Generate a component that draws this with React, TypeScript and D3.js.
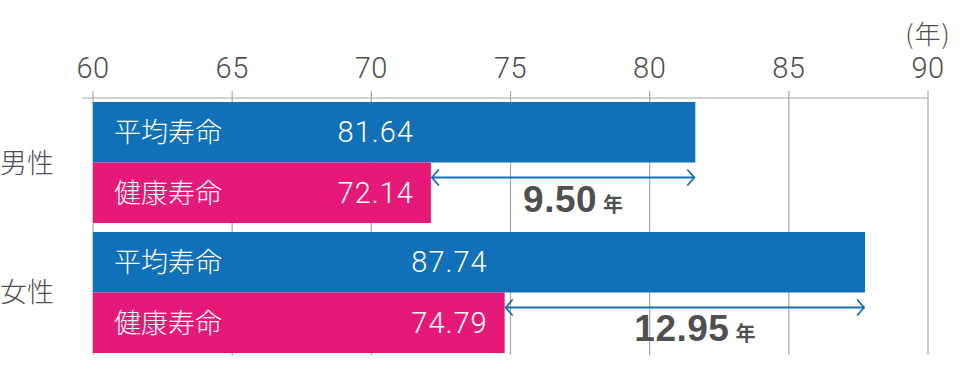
import * as d3 from "d3";

const genders = ["男性", "女性"];
const lifeTypes = ["平均寿命", "健康寿命"];
const averageLife = [81.64, 87.74];
const healthyLife = [72.14, 74.79];
const xTicks = [60, 65, 70, 75, 80, 85, 90];

const W = 960;
const H = 389;
const BLUE = "#1070b8";
const PINK = "#e51a78";
const TEXT = "#505050";
const JP_FONT = "'Noto Sans CJK JP', 'Noto Sans', sans-serif";
const NUM_FONT = "Roboto, 'Liberation Sans', sans-serif";
const BOLD_FONT = "'Liberation Sans', Arial, sans-serif";

export default function App() {
	const x = d3.scaleLinear().domain([60, 90]).range([93, 928]);
	const y = d3.scaleBand<string>().domain(genders).range([102, 353]).paddingInner(0.069);
	const yInner = d3.scaleBand<string>().domain(lifeTypes).range([0, y.bandwidth()]);

	const rows = genders.map((g, i) => ({
		gender: g,
		values: [averageLife[i], healthyLife[i]],
		diff: averageLife[i] - healthyLife[i]
	}));

	const arrowHead = 8;

	return (
		<svg
			width={W}
			height={H}
			style={{ position: "absolute", left: 0, top: 0, background: "#fff" }}
			fontFamily={JP_FONT}
		>
			{/* grid + ticks */}
			{xTicks.map(t => (
				<g key={t}>
					<line x1={x(t)} x2={x(t)} y1={91} y2={355} stroke="#a8a8a8" strokeWidth={1.2} />
					<text
						x={x(t)}
						y={78}
						textAnchor="middle"
						fontFamily={NUM_FONT}
						fontSize={29}
						fontWeight={300}
						letterSpacing={0.5}
						fill={TEXT}
					>
						{t}
					</text>
				</g>
			))}
			<line x1={82} x2={x(90)} y1={98} y2={98} stroke="#a8a8a8" strokeWidth={1.2} />
			<text x={x(90)} y={44} textAnchor="middle" fontSize={26} fontWeight={300} letterSpacing={1} fill={TEXT}>
				(年)
			</text>

			{rows.map(r => {
				const y0 = y(r.gender)!;
				const valueX = x(r.values[1]) - 17;
				const yArrow = y0 + yInner(lifeTypes[1])! + 15;
				const xa1 = x(r.values[1]);
				const xa2 = x(r.values[0]);
				const mid = (xa1 + xa2) / 2 + 10;
				return (
					<g key={r.gender}>
						<text
							x={0}
							y={y0 + y.bandwidth() / 2 + 10}
							fontSize={27}
							fontWeight={300}
							fill={TEXT}
						>
							{r.gender}
						</text>
						{lifeTypes.map((lt, j) => (
							<g key={lt}>
								<rect
									x={x(60)}
									y={y0 + yInner(lt)!}
									width={x(r.values[j]) - x(60)}
									height={yInner.bandwidth()}
									fill={j === 0 ? BLUE : PINK}
								/>
								<text
									x={114}
									y={y0 + yInner(lt)! + yInner.bandwidth() / 2 + 10}
									fontSize={27}
									fontWeight={300}
									fill="#fff"
								>
									{lt}
								</text>
								<text
									x={valueX}
									y={y0 + yInner(lt)! + yInner.bandwidth() / 2 + 10}
									fontFamily={NUM_FONT}
									fontSize={29}
									fontWeight={300}
									letterSpacing={1}
									textAnchor="end"
									fill="#fff"
								>
									{r.values[j].toFixed(2)}
								</text>
							</g>
						))}
						{/* difference arrow */}
						<line x1={xa1 + 1} x2={xa2 - 1} y1={yArrow} y2={yArrow} stroke={BLUE} strokeWidth={1.8} />
						<path
							d={`M${xa1 + arrowHead},${yArrow - arrowHead} L${xa1 + 1},${yArrow} L${xa1 + arrowHead},${yArrow + arrowHead}`}
							fill="none"
							stroke={BLUE}
							strokeWidth={1.8}
						/>
						<path
							d={`M${xa2 - arrowHead},${yArrow - arrowHead} L${xa2 - 1},${yArrow} L${xa2 - arrowHead},${yArrow + arrowHead}`}
							fill="none"
							stroke={BLUE}
							strokeWidth={1.8}
						/>
						<text x={mid} y={yArrow + 34} textAnchor="middle" fill={TEXT} fontWeight={700}>
							<tspan fontFamily={BOLD_FONT} fontSize={37} letterSpacing={0.5}>
								{r.diff.toFixed(2)}
							</tspan>
							<tspan fontSize={20} dx={6}>年</tspan>
						</text>
					</g>
				);
			})}
		</svg>
	);
}
